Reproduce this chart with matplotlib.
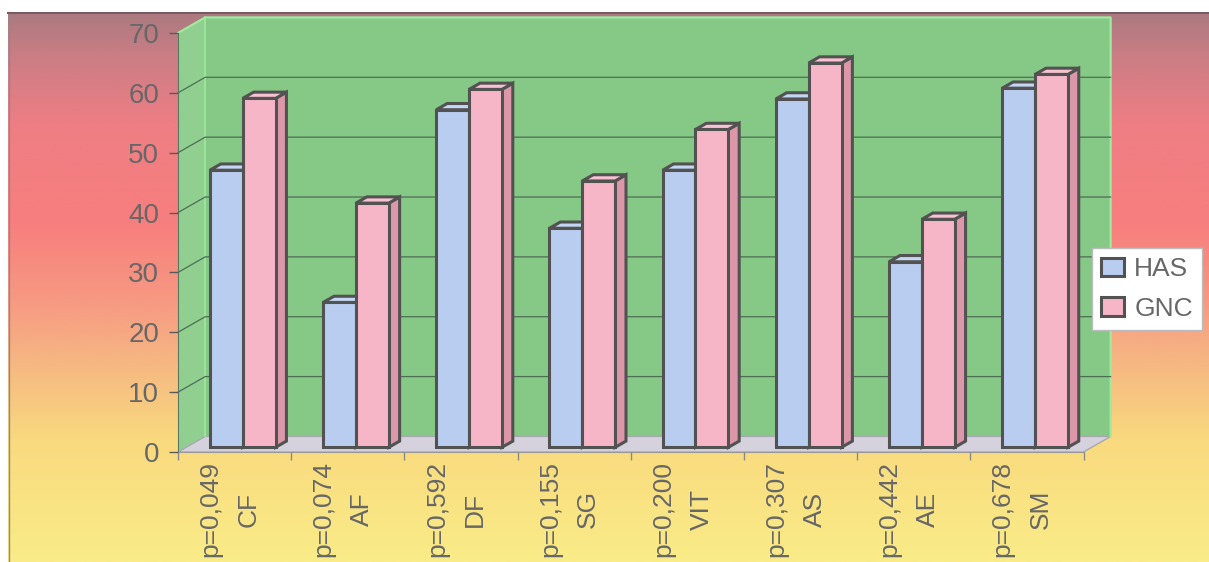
import numpy as np
import matplotlib.pyplot as plt
from matplotlib.patches import Polygon, Patch
from matplotlib.colors import LinearSegmentedColormap
from matplotlib.transforms import ScaledTranslation

# data
categories = ['CF', 'AF', 'DF', 'SG', 'VIT', 'AS', 'AE', 'SM']
p_values = ['0,049', '0,074', '0,592', '0,155', '0,200', '0,307', '0,442', '0,678']
has = [46.3, 24.2, 56.4, 36.6, 46.3, 58.2, 31.0, 60.0]
gnc = [58.3, 40.8, 59.8, 44.5, 53.1, 64.2, 38.1, 62.3]
y_ticks = [0, 10, 20, 30, 40, 50, 60, 70]
series_names = ['HAS', 'GNC']

W, H = 1209, 562
plt.rcParams['font.family'] = ['Liberation Sans', 'DejaVu Sans']
fig = plt.figure(figsize=(W / 100, H / 100), dpi=100)

# page background: vertical gradient mauve -> red -> orange -> yellow
bg = fig.add_axes([0, 0, 1, 1], zorder=-1)
bg.set_xlim(0, W)
bg.set_ylim(H, 0)
bg.axis('off')
grad_cmap = LinearSegmentedColormap.from_list('page', [
    (0.00, '#aa7a80'),
    (0.07, '#c87d84'),
    (0.20, '#ee7e84'),
    (0.38, '#f87e7e'),
    (0.52, '#f69882'),
    (0.65, '#f6ba82'),
    (0.78, '#f9da7e'),
    (1.00, '#faec88'),
])
grad = np.linspace(0, 1, 256).reshape(-1, 1)
bg.imshow(grad, extent=(8, W, H, 12), aspect='auto', cmap=grad_cmap)
bg.plot([9, 9], [12, H], color='#8c8c8c', lw=1)
bg.plot([8, W], [12.5, 12.5], color='#7a5a62', lw=1.5)

# chart axes = front plane of the 3d box
left_px, right_px, base_px, top_px = 178, 1083.5, 452, 33
ax = fig.add_axes([left_px / W, 1 - base_px / H,
                   (right_px - left_px) / W, (base_px - top_px) / H])
n = len(categories)
ymax = y_ticks[-1]
ax.set_xlim(0, n)
ax.set_ylim(0, ymax)
ax.patch.set_visible(False)

DX, DY = 0.24, 2.6   # depth offset of the back wall (category / value units)

wall_kw = dict(ec='none', clip_on=False, zorder=0.5)
ax.add_patch(Polygon([(DX, DY), (n + DX, DY), (n + DX, ymax + DY), (DX, ymax + DY)],
                     fc='#86c886', **wall_kw))
ax.add_patch(Polygon([(0, 0), (DX, DY), (DX, ymax + DY), (0, ymax)],
                     fc='#90cf90', **wall_kw))
ax.add_patch(Polygon([(0, 0), (n, 0), (n + DX, DY), (DX, DY)],
                     fc='#d5d2de', ec='#a9a9b2', lw=1, clip_on=False, zorder=0.6))
# light green rim of the walls
ax.plot([0, DX, n + DX, n + DX], [ymax, ymax + DY, ymax + DY, DY],
        color='#9eea9e', lw=1.6, clip_on=False, zorder=0.7)
ax.plot([DX, DX], [DY, ymax + DY], color='#9eea9e', lw=1.2, clip_on=False, zorder=0.7)

# gridlines on side and back wall
for v in y_ticks[1:-1]:
    ax.plot([0, DX, n + DX], [v, v + DY, v + DY], color='#4e6e54', lw=0.9,
            clip_on=False, zorder=0.8)

# 3d bars
bw, start = 0.29, 0.21
f0, f1 = 0.3, 0.7
styles = [
    dict(face='#b9cdf0', top='#c3d6f4', side='#9fb4dc'),
    dict(face='#f6b6c8', top='#f8c2d2', side='#dc97a9'),
]
edge_kw = dict(ec='#525252', lw=2.2, joinstyle='miter', clip_on=False, zorder=3)


def bar3d(x, v, st):
    xa, xb = x + f0 * DX, x + bw + f0 * DX
    ya = f0 * DY
    ddx, ddy = (f1 - f0) * DX, (f1 - f0) * DY
    ax.add_patch(Polygon([(xb, ya), (xb + ddx, ya + ddy), (xb + ddx, ya + ddy + v), (xb, ya + v)],
                         fc=st['side'], **edge_kw))
    ax.add_patch(Polygon([(xa, ya + v), (xb, ya + v), (xb + ddx, ya + v + ddy), (xa + ddx, ya + v + ddy)],
                         fc=st['top'], **edge_kw))
    ax.add_patch(Polygon([(xa, ya), (xb, ya), (xb, ya + v), (xa, ya + v)],
                         fc=st['face'], **edge_kw))


for i in range(n):
    for s, vals in enumerate([has, gnc]):
        bar3d(i + start + s * bw, vals[i], styles[s])

# axes, ticks, labels
for side in ['top', 'right']:
    ax.spines[side].set_visible(False)
ax.spines['left'].set_color('#5a7860')
ax.spines['bottom'].set_color('#9a9a9a')
ax.spines['left'].set_zorder(0.9)
ax.spines['bottom'].set_zorder(0.9)

ax.set_yticks(y_ticks)
ax.tick_params(axis='y', length=6.5, width=1, color='#5a5a5a', pad=7,
               labelsize=20, labelcolor='#676767')

ax.set_xticks(np.arange(n) + 0.5,
              labels=[f'p={p}\n{c}' for p, c in zip(p_values, categories)],
              rotation=90, fontsize=19, color='#676767', linespacing=1.75)
ax.set_xticks(np.arange(n + 1), minor=True)
ax.tick_params(axis='x', which='major', length=0, pad=6.5)
ax.tick_params(axis='x', which='minor', length=6, width=1, color='#8a8a8a')
shift = ScaledTranslation(-5 / 100, 0, fig.dpi_scale_trans)
for lbl in ax.get_xticklabels():
    lbl.set_transform(lbl.get_transform() + shift)

# legend
handles = [Patch(fc=st['face'], ec='#525252', lw=2.2, label=name)
           for st, name in zip(styles, series_names)]
leg = fig.legend(handles=handles, loc='upper left',
                 bbox_to_anchor=(1092 / W, 1 - 248 / H), borderaxespad=0,
                 fontsize=19, handlelength=0.85, handleheight=0.72,
                 handletextpad=0.4, labelspacing=0.6, borderpad=0.35,
                 fancybox=False, edgecolor='#bdbdbd', facecolor='white',
                 framealpha=1, labelcolor='#676767')

fig.savefig('out.png', dpi=100)
